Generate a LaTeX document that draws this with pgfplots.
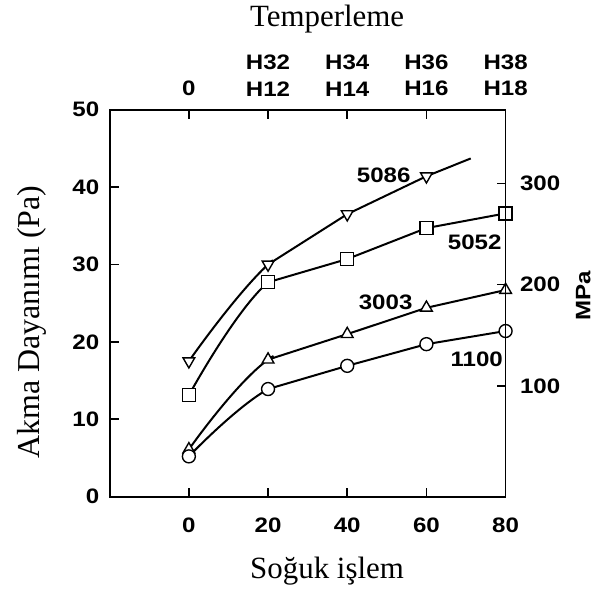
\documentclass[border=0pt]{standalone}
\usepackage{fontspec}
\setmainfont{Liberation Serif}
\newfontfamily\tf[FakeStretch=1.15]{Liberation Sans}
\usepackage{pgfplots}
\pgfplotsset{compat=1.18}
\newcommand\tickf{\tf\bfseries\fontsize{21}{27}\selectfont}
\begin{document}
\begin{tikzpicture}
\begin{axis}[
  name=ax,
  scale only axis, width=397pt, height=388pt,
  xmin=-20, xmax=80, ymin=0, ymax=50,
  clip=false,
  axis line style={line width=1.8pt},
  xtick={0,20,40,60,80}, ytick={0,10,20,30,40,50},
  xtick pos=both, ytick pos=left,
  xticklabel pos=lower,
  tick align=inside, major tick length=9pt,
  tick style={line width=1.5pt, black},
  tick label style={font=\tickf},
  xticklabel style={yshift=-18pt},
  yticklabel style={xshift=-7pt},
  /pgf/number format/assume math mode=true,
  every axis plot/.append style={line width=2pt, black},
  mark options={fill=white, line width=1.4pt, solid},
]
\coordinate (O) at (rel axis cs:0,0);
% curved first segments (0 -> 20), drawn only up to the 20 point
\addplot[smooth, tension=0.75, no marks, dash pattern=on 132pt off 2000pt]
  coordinates {(0,17.5) (20,30.0) (40,36.5)};
\addplot[smooth, tension=0.75, no marks, dash pattern=on 146pt off 2000pt]
  coordinates {(0,13.1) (20,27.7) (40,30.7)};
\addplot[smooth, tension=0.75, no marks, dash pattern=on 127pt off 2000pt]
  coordinates {(0,6.1) (20,17.7) (40,21.0)};
\addplot[smooth, tension=0.75, no marks, dash pattern=on 110pt off 2000pt]
  coordinates {(0,5.2) (20,13.9) (40,16.9)};
% remaining segments
\addplot[no marks] coordinates {(20,30.0) (40,36.5) (60,41.4) (71.2,43.7)};
\addplot[no marks] coordinates {(20,27.7) (40,30.7) (60,34.7) (80,36.6)};
\addplot[no marks] coordinates {(20,17.7) (40,21.0) (60,24.4) (80,26.7)};
\addplot[no marks] coordinates {(20,13.9) (40,16.9) (60,19.7) (80,21.4)};
% markers
% 5086
\addplot[only marks, mark=triangle*, mark size=6.8pt, every mark/.append style={rotate=180}]
  coordinates {(0,17.5) (20,30.0) (40,36.5) (60,41.4)};
% 5052
\addplot[only marks, mark=square*, mark size=6.5pt]
  coordinates {(0,13.1) (20,27.7) (40,30.7) (60,34.7) (80,36.6)};
% 3003
\addplot[only marks, mark=triangle*, mark size=6.8pt]
  coordinates {(0,6.1) (20,17.7) (40,21.0) (60,24.4) (80,26.7)};
% 1100
\addplot[only marks, mark=*, mark size=6.5pt]
  coordinates {(0,5.2) (20,13.9) (40,16.9) (60,19.7) (80,21.4)};
\node[font=\tickf] at (axis cs:49.2,41.5) {5086};
\node[font=\tickf] at (axis cs:72.2,32.9) {5052};
\node[font=\tickf] at (axis cs:49.7,25.1) {3003};
\node[font=\tickf] at (axis cs:72.7,17.8) {1100};
\end{axis}
\begin{axis}[
  scale only axis, width=397pt, height=388pt,
  xmin=-20, xmax=80, ymin=-9.4, ymax=372.9,
  axis line style={line width=1.8pt},
  xtick={0,20,40,60,80},
  xticklabels={0,{H32\\H12},{H34\\H14},{H36\\H16},{H38\\H18}},
  xtick pos=upper, xticklabel pos=upper,
  ytick={100,200,300}, ytick pos=right, yticklabel pos=right,
  tick align=inside, major tick length=9pt,
  tick style={line width=1.5pt, black},
  tick label style={font=\tickf},
  xticklabel style={align=center, anchor=south, yshift=10pt},
  yticklabel style={xshift=11pt},
  /pgf/number format/assume math mode=true,
]
\end{axis}
\node[anchor=base, font=\fontsize{31}{33}\selectfont] at ([shift={(218pt,471pt)}]O) {Temperleme};
\node[anchor=base, font=\fontsize{31}{33}\selectfont] at ([shift={(218pt,-82pt)}]O) {Soğuk işlem};
\node[rotate=90, font=\fontsize{32}{34}\selectfont] at ([shift={(-78pt,175pt)}]O) {Akma Dayanımı (Pa)};
\node[rotate=90, font=\tickf] at ([shift={(475pt,201pt)}]O) {MPa};
\path ([shift={(-110pt,-96pt)}]O) rectangle ([shift={(483pt,498pt)}]O);
\end{tikzpicture}
\end{document}
